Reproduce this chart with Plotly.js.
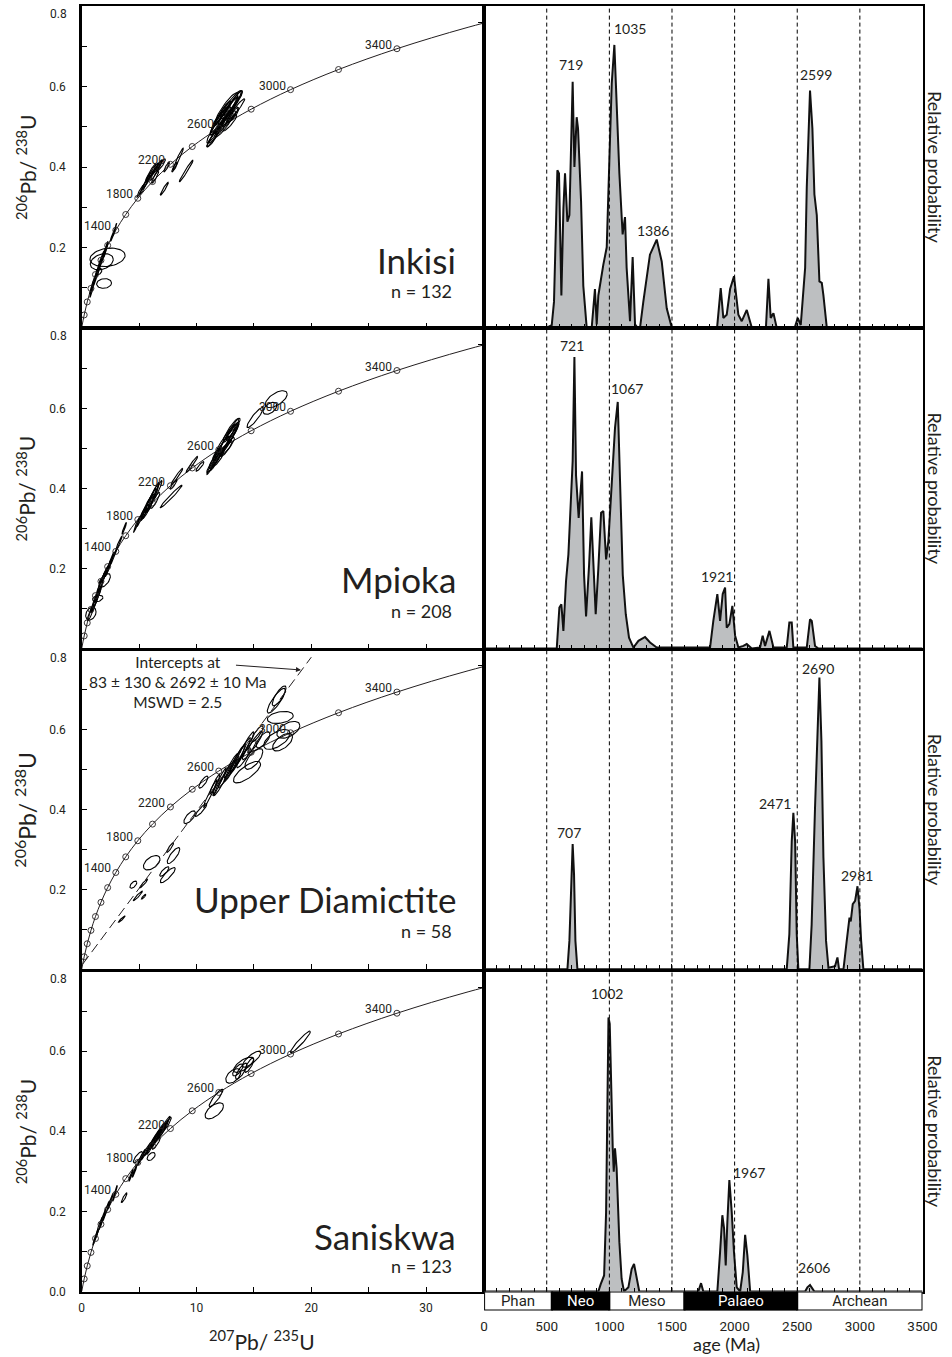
<!DOCTYPE html>
<html><head><meta charset="utf-8">
<script src="https://cdn.plot.ly/plotly-3.0.1.min.js"></script>
<style>html,body{margin:0;padding:0;background:#fff}#chart{width:952px;height:1357px}</style>
</head><body><div id="chart"></div>
<script>
// ---------------- DATA ----------------
const samples = ['Inkisi', 'Mpioka', 'Upper Diamictite', 'Saniskwa'];
const sampleN = [132, 208, 58, 123];

// U-Pb decay constants (1/yr) used to place concordia ages
const L238 = 1.55125e-10, L235 = 9.8485e-10;
const concordiaMarkerAges = [200,400,600,800,1000,1200,1400,1600,1800,2000,2200,2400,2600,2800,3000,3200,3400];
const concordiaLineAges = [0,200,400,600,800,1000,1200,1400,1600,1800,2000,2200,2400,2600,2800,3000,3200,3400,3600,3800];
const concordiaLabelAges = [1400,1800,2200,2600,3000,3400];

// ellipses: [207Pb/235U, s, 206Pb/238U, s, rho]
const inkisiEllipses = [
 [12.4,1.2,0.530,0.045,0.97],[12.8,0.9,0.540,0.035,0.95],[12.0,0.8,0.510,0.030,0.95],
 [13.2,0.8,0.560,0.030,0.95],[11.8,0.7,0.490,0.030,0.95],[12.6,0.6,0.520,0.022,0.90],
 [13.5,0.7,0.545,0.025,0.95],[11.5,0.6,0.475,0.025,0.95],[12.9,0.6,0.510,0.020,0.90],
 [12.2,0.5,0.500,0.020,0.90],[13.0,0.4,0.525,0.015,0.85],[12.5,0.5,0.545,0.020,0.90],
 [12.3,0.7,0.535,0.028,0.95],[11.9,0.5,0.520,0.020,0.92],
 [12.6,1.0,0.545,0.040,0.90],[12.1,0.9,0.515,0.035,0.90],[13.0,0.9,0.555,0.035,0.92],
 [11.7,0.8,0.495,0.035,0.93],[12.9,0.7,0.525,0.025,0.85],[13.4,0.6,0.565,0.025,0.90],
 [11.4,0.5,0.470,0.020,0.90],[12.4,0.8,0.505,0.030,0.90],[13.2,0.5,0.530,0.018,0.85],
 [8.4,0.45,0.420,0.027,0.97],[8.1,0.25,0.400,0.012,0.90],[9.1,0.60,0.390,0.027,0.98],
 [7.4,0.25,0.400,0.012,0.90],[7.2,0.35,0.346,0.016,0.95],
 [6.2,0.5,0.390,0.020,0.95],[6.6,0.45,0.400,0.018,0.95],[5.8,0.4,0.370,0.020,0.95],
 [5.4,0.35,0.350,0.018,0.95],[6.9,0.4,0.405,0.015,0.90],[6.4,0.3,0.375,0.015,0.90],
 [5.1,0.3,0.340,0.015,0.95],[6.0,0.45,0.385,0.022,0.95],[6.5,0.5,0.392,0.025,0.96],
 [5.6,0.35,0.362,0.018,0.95],
 [1.6,0.35,0.160,0.030,0.97],[1.9,0.30,0.180,0.025,0.97],[1.3,0.30,0.130,0.025,0.97],
 [1.0,0.30,0.110,0.025,0.97],[2.1,0.20,0.195,0.020,0.95],[2.7,0.20,0.230,0.015,0.95],
 [1.5,0.20,0.150,0.020,0.95],[0.9,0.20,0.095,0.020,0.95],[2.9,0.15,0.245,0.015,0.97],
 [2.25,1.53,0.175,0.023,0.2],[1.75,1.0,0.164,0.020,0.3],[1.95,0.65,0.110,0.012,0.1],
 [1.5,0.25,0.140,0.008,0.3]
];
const mpiokaEllipses = [
 [12.5,0.9,0.510,0.040,0.94],[12.9,0.8,0.530,0.035,0.93],[12.2,0.7,0.500,0.030,0.93],
 [11.7,0.5,0.470,0.025,0.95],[11.3,0.4,0.455,0.020,0.95],[13.1,0.5,0.540,0.020,0.90],
 [12.7,0.6,0.505,0.022,0.90],[12.4,1.0,0.515,0.045,0.96],[12.0,0.9,0.490,0.040,0.95],
 [12.8,0.9,0.525,0.040,0.94],[11.6,0.7,0.470,0.030,0.95],[13.2,0.6,0.550,0.025,0.92],
 [12.6,0.5,0.500,0.020,0.88],[11.9,0.5,0.475,0.020,0.88],[13.0,0.7,0.545,0.030,0.92],
 [16.95,0.95,0.623,0.021,0.6],[15.1,0.7,0.577,0.025,0.9],[16.4,0.6,0.600,0.015,0.5],
 [7.8,0.95,0.380,0.028,0.98],[8.3,0.5,0.430,0.020,0.97],[9.6,0.5,0.460,0.020,0.97],
 [8.0,0.3,0.410,0.012,0.9],[10.3,0.35,0.455,0.012,0.9],
 [6.0,0.5,0.370,0.030,0.95],[6.3,0.45,0.385,0.030,0.95],[5.6,0.5,0.350,0.030,0.95],
 [6.6,0.4,0.395,0.025,0.95],[5.2,0.4,0.330,0.025,0.97],[4.8,0.3,0.310,0.020,0.97],
 [5.9,0.3,0.360,0.020,0.8],[6.1,0.6,0.375,0.035,0.95],[5.8,0.5,0.355,0.030,0.93],
 [6.4,0.4,0.370,0.020,0.9],[5.5,0.35,0.340,0.020,0.93],[3.7,0.2,0.300,0.015,0.95],
 [0.8,0.3,0.090,0.020,0.9],[1.1,0.3,0.110,0.020,0.95],[1.3,0.35,0.125,0.025,0.95],
 [1.5,0.3,0.140,0.020,0.95],[1.7,0.35,0.165,0.025,0.95],[2.0,0.3,0.185,0.020,0.95],
 [2.3,0.25,0.200,0.020,0.95],[2.7,0.3,0.225,0.020,0.97],[3.2,0.3,0.260,0.020,0.97],
 [1.2,0.4,0.120,0.030,0.97],[1.8,0.4,0.170,0.030,0.97],[2.5,0.3,0.215,0.025,0.97],
 [0.8,0.45,0.087,0.016,0.3],[2.0,0.5,0.170,0.017,0.6],[1.4,0.45,0.125,0.008,0.3]
];
const diamictiteEllipses = [
 [16.95,0.785,0.673,0.031,0.85],[17.2,0.6,0.685,0.025,0.8],[17.3,1.13,0.631,0.015,0.3],
 [18.0,1.0,0.600,0.021,0.5],[17.0,1.15,0.576,0.025,0.6],[17.5,0.87,0.569,0.022,0.6],
 [15.1,0.65,0.569,0.027,0.9],[14.6,0.6,0.550,0.025,0.9],[14.1,0.6,0.530,0.025,0.9],
 [15.0,0.78,0.527,0.026,0.7],[14.4,1.18,0.494,0.027,0.75],[15.3,0.5,0.590,0.020,0.85],
 [15.8,0.6,0.575,0.020,0.7],
 [13.8,0.9,0.535,0.045,0.97],[13.3,0.9,0.515,0.045,0.97],[12.8,0.9,0.495,0.040,0.97],
 [12.3,0.8,0.475,0.040,0.97],[13.0,0.6,0.510,0.030,0.95],[12.0,0.6,0.470,0.035,0.97],
 [14.2,0.8,0.555,0.040,0.96],[13.6,0.7,0.530,0.035,0.95],
 [11.6,0.44,0.464,0.025,0.95],[11.2,0.6,0.440,0.035,0.97],[10.6,0.4,0.469,0.015,0.8],
 [10.4,0.5,0.399,0.016,0.9],[9.4,0.5,0.381,0.016,0.7],
 [6.1,0.72,0.267,0.018,0.5],[8.0,0.55,0.285,0.020,0.8],[7.7,0.3,0.305,0.012,0.9],
 [7.5,0.65,0.236,0.019,0.85],[7.2,0.4,0.245,0.012,0.8],[4.5,0.3,0.212,0.009,0.6],
 [5.4,0.35,0.215,0.011,0.95],[4.9,0.4,0.184,0.012,0.95],[5.4,0.2,0.182,0.006,0.9],
 [3.5,0.3,0.126,0.008,0.95]
];
const saniskwaEllipses = [
 [19.05,0.87,0.623,0.027,0.95],
 [13.2,0.65,0.538,0.018,0.5],[14.1,0.87,0.566,0.019,0.7],[14.8,0.8,0.580,0.020,0.8],
 [14.6,0.4,0.565,0.018,0.8],[13.9,0.5,0.550,0.020,0.8],[13.6,0.45,0.553,0.015,0.7],
 [11.55,0.8,0.451,0.020,0.6],[11.7,0.6,0.483,0.022,0.9],
 [7.2,0.5,0.415,0.022,0.97],[6.8,0.55,0.395,0.025,0.97],[6.4,0.5,0.380,0.025,0.97],
 [6.0,0.5,0.365,0.025,0.97],[5.6,0.45,0.350,0.022,0.97],[5.2,0.35,0.335,0.020,0.97],
 [6.5,0.35,0.370,0.015,0.9],[7.0,0.35,0.400,0.015,0.9],[7.5,0.3,0.420,0.015,0.9],
 [6.6,0.6,0.390,0.030,0.97],[6.2,0.55,0.372,0.030,0.97],[7.1,0.45,0.405,0.022,0.95],
 [6.05,0.35,0.337,0.010,0.5],[4.9,0.4,0.335,0.014,0.8],[4.6,0.2,0.300,0.015,0.95],
 [4.3,0.2,0.290,0.015,0.95],[3.7,0.25,0.234,0.012,0.9],
 [1.2,0.25,0.135,0.020,0.97],[1.5,0.3,0.160,0.025,0.97],[1.8,0.3,0.180,0.025,0.97],
 [2.1,0.3,0.200,0.025,0.97],[2.5,0.25,0.225,0.020,0.97],[2.9,0.2,0.245,0.020,0.97]
];
const ellipseSets = [inkisiEllipses, mpiokaEllipses, diamictiteEllipses, saniskwaEllipses];

// discordia (Upper Diamictite): lower & upper intercept ages (Ma)
const discordiaIntercepts = [83, 2692];
const interceptText = 'Intercepts at<br>83 \u00b1 130 & 2692 \u00b1 10 Ma<br>MSWD = 2.5';

// relative probability curves (age Ma, % of panel height)
const inkisiAge = [0,500,540,558,585,598,617,633,646,665,681,707,721,739,750,774,792,819,859,885,899,912,952,979,1000,1019,1040,1058,1080,1106,1125,1138,1165,1186,1205,1224,1245,1271,1324,1378,1418,1458,1498,1860,1889,1910,1937,1964,1995,2030,2057,2097,2137,2250,2270,2288,2310,2336,2480,2504,2528,2563,2576,2602,2621,2637,2656,2677,2696,2709,2736,3500];
const inkisiProb = [0,0,0.8,8,49,48,10,37,48,33,35,76.5,50,65.5,62,39.4,13,0,0,12,1,10,19.6,25,52,76,88,70.7,48,29,34.4,18.6,2,22,1,0,0,8,22.7,27.4,20.6,6,0,0,12.3,3,4,12,16,4,2,5.5,0,0,15.2,3,4.5,0,0,3,0.8,18.6,43.6,73.8,62,41.5,35,14.4,13.9,10,0,0];
const mpiokaAge = [0,580,601,617,633,654,673,691,707,721,734,755,782,798,814,838,856,872,891,912,934,952,974,992,1019,1045,1067,1085,1107,1131,1157,1192,1232,1285,1325,1378,1804,1830,1862,1884,1905,1924,1937,1958,1982,2004,2030,2070,2097,2137,2203,2224,2243,2278,2310,2416,2437,2456,2469,2576,2602,2616,2642,2669,3500];
const mpiokaProb = [0,0,12.8,13.8,5.5,21,29.4,46,58.5,91,54,40.8,55.3,23,10,26,41,27,10.7,25,42.4,42.9,27.8,33.5,50,68.8,77,55,23,10.7,3.4,0.3,2.4,3.6,1.9,0.3,0.3,8.6,17,8.6,17,19,6.5,7.6,13.3,4,0.3,0.8,1.4,0,0.3,4,0.8,5.5,0.3,0.3,8.1,8.1,0.3,0.3,9.1,8.6,0.8,0,0];
const diamictiteAge = [0,665,681,697,707,718,729,745,2416,2437,2456,2469,2483,2496,2509,2597,2615,2642,2661,2677,2693,2709,2730,2749,2802,2821,2834,2869,2895,2917,2927,2943,2962,2981,2997,3010,3028,3500];
const diamictiteProb = [0,0,8.9,29.8,39.2,29.8,8.9,0,0,11,40,49,40,11,0,0,14,50.7,76.8,91.4,71.6,35,8.9,0.5,1,3.7,0,0,8.9,16.2,15,20.4,21.4,26,19,9,0,0];
const saniskwaAge = [0,912,931,958,974,985,993,1003,1014,1027,1035,1045,1058,1080,1098,1117,1152,1178,1197,1218,1239,1710,1732,1750,1862,1884,1902,1916,1929,1942,1958,1977,1995,2017,2044,2065,2084,2102,2124,2563,2581,2602,2621,2637,3500];
const saniskwaProb = [0,0,2.3,5,24.8,61.5,85.5,83.5,61.5,44.7,37.4,44.7,38.4,15.4,3.9,0,1.3,7,8.6,3.9,0,0,2.6,0,0,12.3,23.8,19.6,8.1,21.7,34.8,24.8,12.3,1.3,0,6,17.7,11.2,0,0,1.3,2,1,0,0];
const pdpAges = [inkisiAge, mpiokaAge, diamictiteAge, saniskwaAge];
const pdpProbs = [inkisiProb, mpiokaProb, diamictiteProb, saniskwaProb];

// labelled peak ages per sample
const peakLabels = [['719','1035','1386','2599'], ['721','1067','1921'], ['2690','707','2471','2981'], ['1002','1967','2606']];

// time scale
const eonNames = ['Phan','Neo','Meso','Palaeo','Archean'];
const eonStart = [0,541,1000,1600,2500];
const eonEnd = [541,1000,1600,2500,3500];
const ageGridLines = [500,1000,1500,2000,2500,3000];
const ageTicks = [0,500,1000,1500,2000,2500,3000,3500];

// ---------------- LAYOUT HELPERS ----------------
const W = 952, H = 1357;
const fx = p => p / W, fy = p => 1 - p / H;
const rowTop = [6.4, 328.3, 650, 971];
const rowBot = [327.6, 648.5, 969.3, 1291.5];
const LEFT = [81.7, 483.5], RIGHT = [484.1, 922.5];
const INK = '#231f20';
const NARROW = '"Liberation Sans Narrow", "Arial Narrow", Roboto, sans-serif';
const SANS = 'Lato, "Open Sans", sans-serif';

const cx = t => Math.exp(L235 * t * 1e6) - 1;
const cy = t => Math.exp(L238 * t * 1e6) - 1;

function ellipsePath(set) {
  const X = [], Y = [];
  set.forEach(([x, sx, y, sy, r]) => {
    const q = Math.sqrt(1 - r * r);
    for (let k = 0; k <= 48; k++) {
      const th = 2 * Math.PI * k / 48;
      X.push(x + sx * Math.cos(th));
      Y.push(y + sy * (r * Math.cos(th) + q * Math.sin(th)));
    }
    X.push(null); Y.push(null);
  });
  return {X, Y};
}

const traces = [];
const layout = {
  width: W, height: H, margin: {l: 0, r: 0, t: 0, b: 0},
  paper_bgcolor: '#fff', plot_bgcolor: 'rgba(0,0,0,0)', showlegend: false,
  font: {family: SANS, color: INK},
  annotations: [], shapes: []
};
const axKey = (a, n) => n === 1 ? a + 'axis' : a + 'axis' + n;
const axId = (a, n) => n === 1 ? a : a + n;

for (let i = 0; i < 4; i++) {
  const nL = 2 * i + 1, nR = 2 * i + 2;
  const yDom = [fy(rowBot[i]), fy(rowTop[i])];
  const last = i === 3;
  // ---- concordia panel ----
  layout[axKey('x', nL)] = {
    domain: [fx(LEFT[0]), fx(LEFT[1])], range: [0, 35], anchor: axId('y', nL),
    showline: true, mirror: true, linecolor: '#000', linewidth: 2.5,
    ticks: 'inside', ticklen: 5, tickwidth: 1, tickcolor: '#000',
    tickvals: [0, 10, 20, 30], showticklabels: last,
    tickfont: {family: NARROW, size: 12, color: INK}, ticklabelstandoff: 4,
    minor: {tickvals: [5, 15, 25, 35], ticks: 'inside', ticklen: 5, tickwidth: 1, tickcolor: '#000', showgrid: false},
    showgrid: false, zeroline: false, fixedrange: true
  };
  layout[axKey('y', nL)] = {
    domain: yDom, range: [0, 0.8], anchor: axId('x', nL),
    showline: true, mirror: true, linecolor: '#000', linewidth: 2.5,
    ticks: 'inside', ticklen: 5, tickwidth: 1, tickcolor: '#000',
    tickvals: last ? [0, 0.2, 0.4, 0.6, 0.8] : [0.2, 0.4, 0.6, 0.8],
    ticktext: last ? ['0.0', '0.2', '0.4', '0.6', ''] : ['0.2', '0.4', '0.6', ''],
    tickfont: {family: NARROW, size: 12, color: INK}, ticklabelstandoff: 11,
    minor: {tickvals: [0.1, 0.3, 0.5, 0.7], ticks: 'inside', ticklen: 5, tickwidth: 1, tickcolor: '#000', showgrid: false},
    showgrid: false, zeroline: false, fixedrange: true
  };
  // top "0.8" label, drawn just below the top tick as in the original
  layout.annotations.push({
    xref: 'paper', yref: 'paper', x: fx(68.5), y: fy(rowTop[i] + 8), text: '0.8', showarrow: false,
    xanchor: 'right', yanchor: 'middle', font: {family: NARROW, size: 12, color: INK}
  });
  const ex = axId('x', nL), ey = axId('y', nL);
  traces.push({
    x: concordiaLineAges.map(cx), y: concordiaLineAges.map(cy), xaxis: ex, yaxis: ey,
    mode: 'lines', line: {color: INK, width: 1, shape: 'spline'}, hoverinfo: 'skip'
  });
  const ep = ellipsePath(ellipseSets[i]);
  traces.push({x: ep.X, y: ep.Y, xaxis: ex, yaxis: ey, mode: 'lines',
    line: {color: '#000', width: 1.1}, connectgaps: false, hoverinfo: 'skip'});
  traces.push({
    x: concordiaMarkerAges.map(cx), y: concordiaMarkerAges.map(cy), xaxis: ex, yaxis: ey,
    mode: 'markers', marker: {symbol: 'circle-open', size: 6, color: INK, line: {width: 0.9, color: INK}},
    cliponaxis: false, hoverinfo: 'skip'
  });
  concordiaLabelAges.forEach(a => layout.annotations.push({
    xref: ex, yref: ey, x: cx(a), y: cy(a), text: String(a), showarrow: false,
    xanchor: 'right', yanchor: 'middle', xshift: -3, yshift: 4,
    font: {family: NARROW, size: 12, color: INK}
  }));
  if (i === 2) {
    const t0 = discordiaIntercepts[0], t1 = discordiaIntercepts[1];
    const slope = (cy(t1) - cy(t0)) / (cx(t1) - cx(t0));
    const xEnd = 20;
    traces.push({
      x: [cx(t0), cx(t1), xEnd], y: [cy(t0), cy(t1), cy(t0) + slope * (xEnd - cx(t0))],
      xaxis: ex, yaxis: ey, mode: 'lines', line: {color: INK, width: 1, dash: '10px,5px'}, hoverinfo: 'skip'
    });
    layout.annotations.push({
      xref: 'paper', yref: 'paper', x: fx(177.5), y: fy(682), text: interceptText, showarrow: false,
      xanchor: 'center', yanchor: 'middle', align: 'center', font: {family: SANS, size: 15.5, color: INK}
    });
    layout.annotations.push({
      xref: ex, yref: ey, x: xEnd - 0.9, y: 0.75, text: ' ', showarrow: true,
      ax: -68, ay: -5, arrowhead: 2, arrowsize: 1, arrowwidth: 1, arrowcolor: INK
    });
  }
  // sample name
  layout.annotations.push({
    xref: 'paper', yref: 'paper', x: fx(458), y: fy([260, 579, 899, 1236][i]), text: samples[i],
    showarrow: false, xanchor: 'right', yanchor: 'middle', font: {family: SANS, size: 35, color: INK}
  });
  layout.annotations.push({
    xref: 'paper', yref: 'paper', x: fx(454), y: fy([291, 611, 931, 1266][i]), text: 'n = ' + sampleN[i],
    showarrow: false, xanchor: 'right', yanchor: 'middle', font: {family: SANS, size: 18, color: INK}
  });
  // y title
  layout.annotations.push({
    xref: 'paper', yref: 'paper', x: fx(26), y: fy((rowTop[i] + rowBot[i]) / 2),
    text: '<sup>206</sup>Pb/ <sup>238</sup>U', textangle: -90, showarrow: false,
    xanchor: 'center', yanchor: 'middle', font: {family: SANS, size: i === 2 ? 23 : 21, color: INK}
  });

  // ---- probability panel ----
  layout[axKey('x', nR)] = {
    domain: [fx(RIGHT[0]), fx(RIGHT[1])], range: [0, 3500], anchor: axId('y', nR),
    showline: true, mirror: true, linecolor: '#000', linewidth: 2.5,
    ticks: 'inside', ticklen: 5, tickwidth: 1, tickcolor: '#000', dtick: 500, tick0: 0,
    showticklabels: false,
    minor: {dtick: 100, ticks: 'inside', ticklen: 4, tickwidth: 1, tickcolor: '#000', showgrid: false},
    showgrid: false, zeroline: false, fixedrange: true
  };
  layout[axKey('y', nR)] = {
    domain: yDom, range: [0, 100], anchor: axId('x', nR),
    showline: true, mirror: true, linecolor: '#000', linewidth: 2.5,
    ticks: 'outside', ticklen: 4, tickwidth: 1, tickcolor: '#000', tickvals: [95], showticklabels: false,
    showgrid: false, zeroline: false, fixedrange: true
  };
  const rx = axId('x', nR), ry = axId('y', nR);
  traces.push({
    x: pdpAges[i], y: pdpProbs[i], xaxis: rx, yaxis: ry, mode: 'lines', fill: 'tozeroy',
    fillcolor: '#bdbfc1', line: {color: '#111', width: 2}, hoverinfo: 'skip'
  });
  ageGridLines.forEach(a => layout.shapes.push({
    type: 'line', xref: rx, yref: ry + ' domain', x0: a, x1: a, y0: 0, y1: 1, layer: 'above',
    line: {color: '#000', width: 1, dash: '4px,3px'}
  }));
  layout.annotations.push({
    xref: 'paper', yref: 'paper', x: fx(935), y: fy((rowTop[i] + rowBot[i]) / 2),
    text: 'Relative probability', textangle: 90, showarrow: false,
    xanchor: 'center', yanchor: 'middle', font: {family: SANS, size: 18, color: INK}
  });
}

// peak labels (pixel positions)
const peakPos = [
  [[570.7, 65], [630, 29], [652.7, 230], [816, 75]],
  [[572.3, 345], [626.7, 388.3], [716.7, 576]],
  [[818.3, 668], [569.3, 832.7], [775, 803], [856.7, 876]],
  [[606.7, 993.3], [749.3, 1172.7], [814.3, 1267]]
];
peakLabels.forEach((arr, i) => arr.forEach((t, j) => layout.annotations.push({
  xref: 'paper', yref: 'paper', x: fx(peakPos[i][j][0]), y: fy(peakPos[i][j][1]), text: t,
  showarrow: false, xanchor: 'center', yanchor: 'middle', font: {family: SANS, size: 14, color: INK}
})));

// eon bar
layout.xaxis9 = {
  domain: [fx(RIGHT[0]), fx(RIGHT[1])], range: [0, 3500], anchor: 'y9',
  showline: false, ticks: '', tickvals: ageTicks, ticktext: ageTicks.map(String),
  tickfont: {family: NARROW, size: 13.5, color: INK}, ticklabelstandoff: 6,
  showgrid: false, zeroline: false, fixedrange: true
};
layout.yaxis9 = {domain: [fy(1310.5), fy(1291.5)], range: [-0.5, 0.5], anchor: 'x9', visible: false, fixedrange: true};
traces.push({
  type: 'bar', orientation: 'h', xaxis: 'x9', yaxis: 'y9',
  y: eonNames.map(() => 0), base: eonStart, x: eonEnd.map((e, k) => e - eonStart[k]), width: 1,
  marker: {color: eonNames.map((_, k) => k % 2 ? '#000' : '#fff'), line: {color: '#000', width: 2}},
  text: eonNames, textposition: 'inside', insidetextanchor: 'middle', constraintext: 'none', textangle: 0,
  textfont: {family: NARROW, size: 15, color: eonNames.map((_, k) => k % 2 ? '#fff' : INK)},
  cliponaxis: false, hoverinfo: 'skip'
});

// axis titles
layout.annotations.push({
  xref: 'paper', yref: 'paper', x: fx(262), y: fy(1340), text: '<sup>207</sup>Pb/ <sup>235</sup>U',
  showarrow: false, xanchor: 'center', yanchor: 'middle', font: {family: SANS, size: 21, color: INK}
});
layout.annotations.push({
  xref: 'paper', yref: 'paper', x: fx(726), y: fy(1344), text: 'age (Ma)',
  showarrow: false, xanchor: 'center', yanchor: 'middle', font: {family: SANS, size: 18, color: INK}
});

Plotly.newPlot('chart', traces, layout, {staticPlot: true});
</script></body></html>
